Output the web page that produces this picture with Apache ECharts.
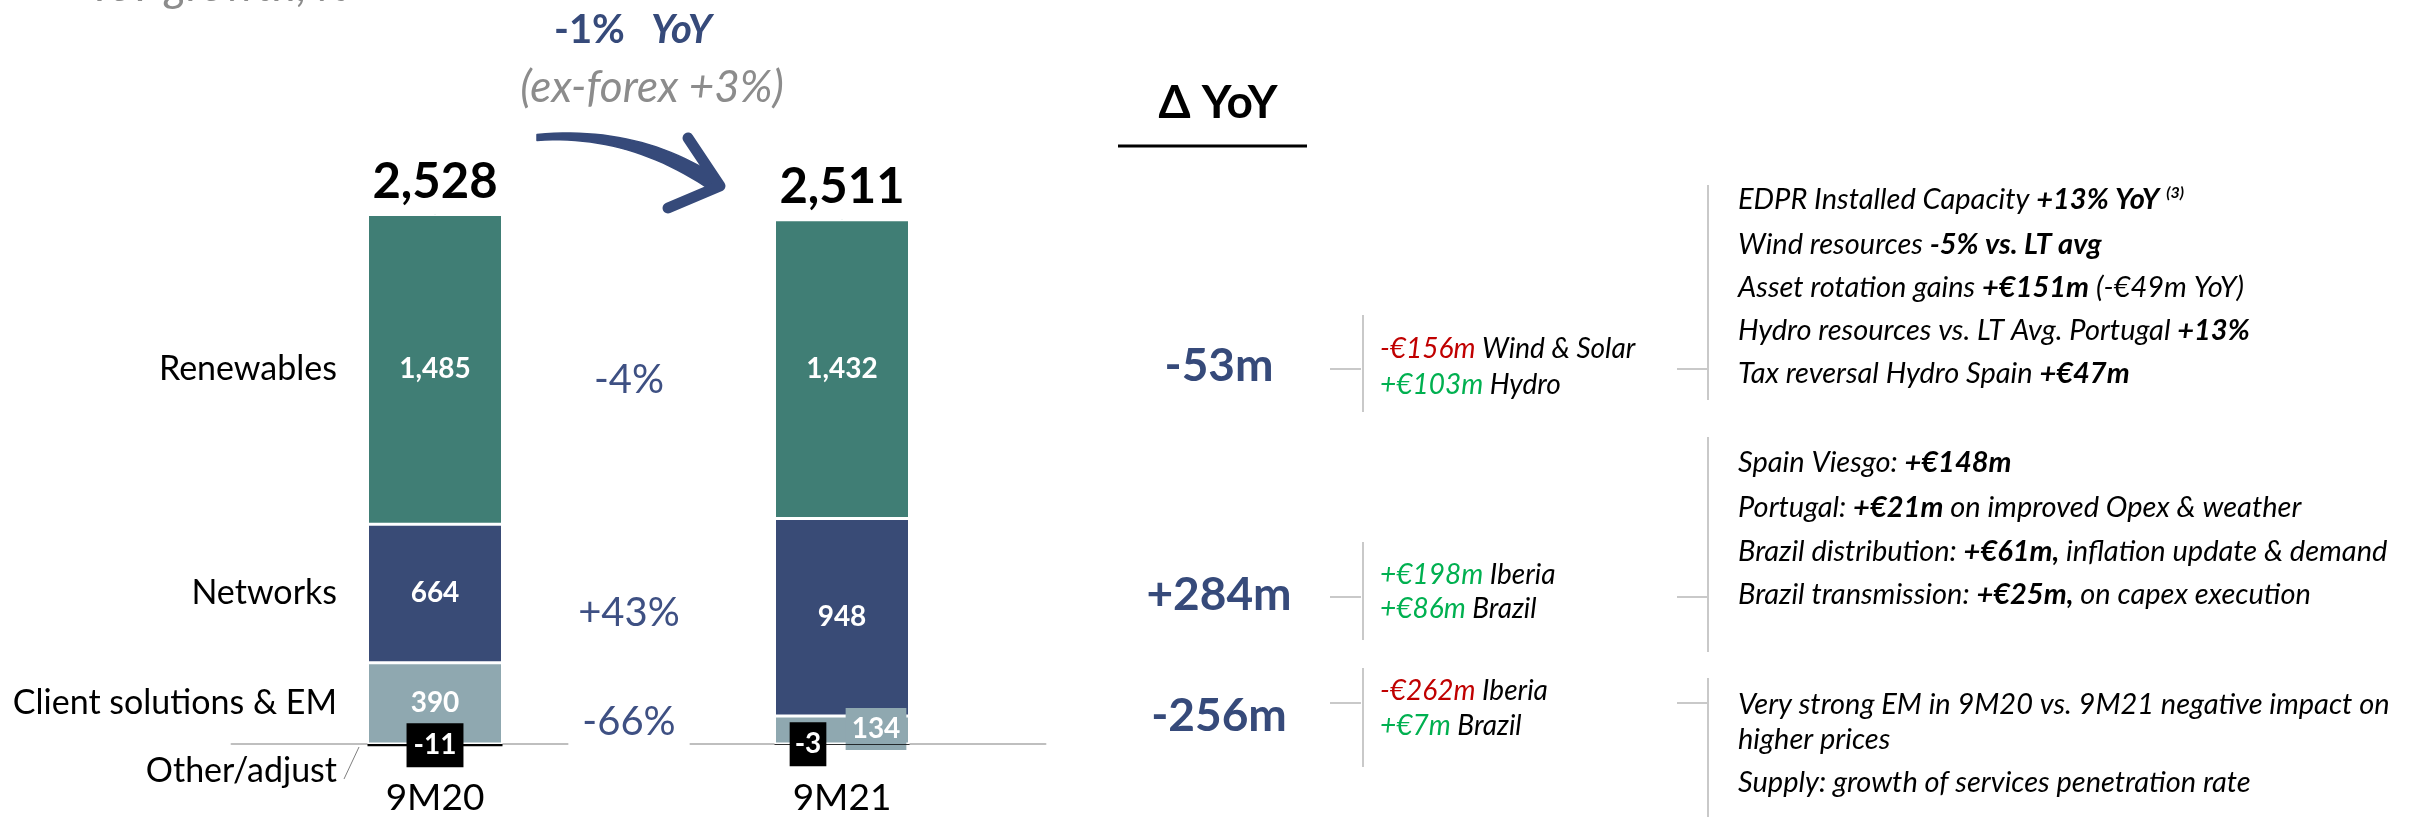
<!DOCTYPE html>
<html><head><meta charset="utf-8">
<script src="https://cdn.jsdelivr.net/npm/echarts@6/dist/echarts.min.js"></script>
<style>html,body{margin:0;padding:0;background:#fff;}#c{width:2412px;height:817px;}</style>
</head><body><div id="c"></div>
<script>
// ---------- data ----------
const categories = ['9M20', '9M21'];
const segmentNames = ['Renewables', 'Networks', 'Client solutions & EM', 'Other/adjust'];
const renewables = [1485, 1432];
const networks = [664, 948];
const clientSolutions = [390, 134];
const otherAdjust = [-11, -3];
const totals = [2528, 2511];
const segmentGrowth = ['-4%', '+43%', '-66%'];
const headlineChange = '-1%';
const headlineUnit = 'YoY';
const headlineSub = '(ex-forex +3%)';
const axisNote = 'YoY growth, %';
const deltaTitle = 'Δ YoY';
const deltaValues = ['-53m', '+284m', '-256m'];
const deltaDrivers = [
  [['-€156m', 'Wind & Solar'], ['+€103m', 'Hydro']],
  [['+€198m', 'Iberia'], ['+€86m', 'Brazil']],
  [['-€262m', 'Iberia'], ['+€7m', 'Brazil']]
];
const deltaDetails = [
  ['EDPR Installed Capacity {b|+13% YoY} {sup|(3)}', 'Wind resources {b|-5% vs. LT avg}', 'Asset rotation gains {b|+€151m} (-€49m YoY)', 'Hydro resources vs. LT Avg. Portugal {b|+13%}', 'Tax reversal Hydro Spain {b|+€47m}'],
  ['Spain Viesgo: {b|+€148m}', 'Portugal: {b|+€21m} on improved Opex & weather', 'Brazil distribution: {b|+€61m,} inflation update & demand', 'Brazil transmission: {b|+€25m,} on capex execution'],
  ['Very strong EM in 9M20 vs. 9M21 negative impact on', 'higher prices', 'Supply: growth of services penetration rate']
];

// ---------- styles / layout ----------
const FONT = 'Lato, "Liberation Sans", sans-serif';
const C = { ren: '#407e75', net: '#394b76', cli: '#8fa8b0', oth: '#000000', blue: '#364a7a', blue2: '#3e5083', grey: '#8c8c8c', line: '#c9c9c9', red: '#c00000', green: '#00b050' };
const fmt = n => String(n).replace(/\B(?=(\d{3})+(?!\d))/g, ',');
const stackTop = categories.map((_, i) => renewables[i] + networks[i] + clientSolutions[i]);

const chart = echarts.init(document.getElementById('c'), null, { renderer: 'canvas' });
const segLabel = { show: true, position: 'inside', color: '#fff', fontWeight: 'bold', fontSize: 28, fontFamily: FONT };

const option = {
  animation: false,
  backgroundColor: '#fff',
  grid: { left: 231.5, right: 1366.5, top: 118.5, bottom: 31.3, containLabel: false, outerBoundsMode: 'none' },
  xAxis: {
    type: 'category', data: categories, boundaryGap: true,
    axisLine: { show: true, onZero: true, lineStyle: { color: '#bfbfbf', width: 2 } },
    axisTick: { show: false },
    axisLabel: { show: false },
    z: 1
  },
  yAxis: { type: 'value', min: -200, max: 3000, show: false, splitLine: { show: false } },
  series: [
    {
      name: segmentNames[2], type: 'bar', stack: 's', barWidth: 135,
      itemStyle: { color: C.cli, borderColor: '#fff', borderWidth: 1.5 },
      label: segLabel,
      data: clientSolutions.map((v, i) => i === 1 ? { value: v, label: { offset: [34, -1], backgroundColor: C.cli, padding: [8, 6, 6, 6] } } : v),
      z: 2
    },
    {
      name: segmentNames[1], type: 'bar', stack: 's', barWidth: 135,
      itemStyle: { color: C.net, borderColor: '#fff', borderWidth: 1.5 },
      label: segLabel, data: networks, z: 2
    },
    {
      name: segmentNames[0], type: 'bar', stack: 's', barWidth: 135,
      itemStyle: { color: C.ren, borderColor: '#fff', borderWidth: 1.5 },
      label: Object.assign({}, segLabel, { formatter: p => fmt(p.value) }), data: renewables, z: 2
    },
    {
      name: segmentNames[3], type: 'bar', stack: 's', barWidth: 135,
      itemStyle: { color: C.oth },
      label: Object.assign({}, segLabel, { backgroundColor: '#000' }),
      data: otherAdjust.map((v, i) => i === 1 ? { value: v, label: { offset: [-34, 0], padding: [9, 5, 7, 5] } } : { value: v, label: { padding: [9, 7, 7, 7] } }),
      z: 3
    },
    {
      name: 'Total', type: 'scatter', data: stackTop, symbolSize: 0.5,
      itemStyle: { color: C.ren }, silent: true, z: 4,
      label: { show: true, position: 'top', distance: 8, opacity: 1, formatter: p => fmt(totals[p.dataIndex]), color: '#000000', textBorderWidth: 0, fontWeight: 'bold', fontSize: 49, fontFamily: FONT }
    }
  ]
};
chart.setOption(option);

// ---------- annotations ----------
function txt(x, y, text, st) {
  return { type: 'text', x, y, silent: true, z: 10,
    style: Object.assign({ text, fill: '#000', fontFamily: FONT, fontSize: 26, align: 'left', verticalAlign: 'middle' }, st || {}) };
}
function ln(x1, y1, x2, y2, w, color) {
  return { type: 'line', silent: true, z: 5, shape: { x1, y1, x2, y2 }, style: { stroke: color || C.line, lineWidth: w || 2 } };
}
function quad(p0, cp, p1, n) {
  const pts = [];
  for (let k = 0; k <= n; k++) {
    const t = k / n, u = 1 - t;
    pts.push([u * u * p0[0] + 2 * u * t * cp[0] + t * t * p1[0], u * u * p0[1] + 2 * u * t * cp[1] + t * t * p1[1]]);
  }
  return pts;
}
const yPix = v => chart.convertToPixel({ gridIndex: 0 }, [0, v])[1];
const xPix = i => chart.convertToPixel({ gridIndex: 0 }, [i, 0])[0];
const catLabelY = [
  yPix(clientSolutions[0] + networks[0] + renewables[0] / 2),
  yPix(clientSolutions[0] + networks[0] / 2),
  yPix(clientSolutions[0] / 2),
  771
];
const g = [];
// category (x axis) labels, placed by the axis scale
categories.forEach((c, i) => g.push(txt(xPix(i), 798, c, { fontSize: 37, align: 'center' })));
// top-left note (cut off at top)
g.push(txt(88, 9, axisNote, { fill: C.grey, fontSize: 45, fontStyle: 'italic', verticalAlign: 'bottom' }));
// headline
g.push(txt(554, 30, '{a|' + headlineChange + '}{b|' + headlineUnit + '}', {
  rich: {
    a: { fontFamily: FONT, fontSize: 40, fontWeight: 'bold', fill: C.blue, color: C.blue },
    b: { fontFamily: FONT, fontSize: 40, fontWeight: 'bold', fontStyle: 'italic', fill: C.blue, color: C.blue, padding: [0, 0, 0, 26] }
  }
}));
g.push(txt(652, 88, headlineSub, { fill: C.grey, fontSize: 44, fontStyle: 'italic', align: 'center' }));
// curved arrow
const shaft = quad([537, 134.5], [640, 125], [719, 178], 24).concat(quad([712, 191], [630, 134], [537, 140.5], 24));
g.push({ type: 'polygon', silent: true, z: 6, shape: { points: shaft }, style: { fill: C.blue, stroke: C.blue, lineWidth: 1.5, lineJoin: 'round' } });
g.push({ type: 'polyline', silent: true, z: 6, shape: { points: [[688, 138], [720, 186], [668, 208]] }, style: { stroke: C.blue, lineWidth: 11, lineCap: 'round', lineJoin: 'round', fill: null } });
// category names
segmentNames.forEach((n, i) => g.push(txt(337, catLabelY[i], n, { fontSize: 34, align: 'right' })));
g.push(ln(344, 779, 359, 747, 1, '#7f7f7f'));
// growth between bars
const growthY = [380, 613, 722];
segmentGrowth.forEach((s, i) => g.push(txt(629, growthY[i], s, Object.assign({ fill: C.blue2, fontSize: 40, align: 'center' }, i === 2 ? { backgroundColor: '#fff', padding: [4, 14] } : {}))));

// right panel
g.push(txt(1218, 103, deltaTitle, { fontSize: 46, fontWeight: 'bold', align: 'center' }));
g.push(ln(1118, 146, 1307, 146, 3, '#000'));
const valY = [366, 595, 716];
const drvY = [[349, 385], [575, 609], [691, 726]];
const connY = [369, 597, 703];
const v1 = [[315, 412], [542, 640], [668, 767]];
const v2 = [[185, 400], [437, 652], [678, 817]];
const detY = [[200, 245, 288, 331, 374], [463, 508, 552, 595], [705, 740, 783]];
const DS = 29, RS = 28;
deltaValues.forEach((v, i) => {
  g.push(txt(1219, valY[i], v, { fontSize: 46, fontWeight: 'bold', fill: C.blue, align: 'center' }));
  g.push(ln(1330, connY[i], 1361, connY[i]));
  g.push(ln(1363, v1[i][0], 1363, v1[i][1]));
  g.push(ln(1677, connY[i], 1707, connY[i]));
  g.push(ln(1708, v2[i][0], 1708, v2[i][1]));
  deltaDrivers[i].forEach((d, j) => {
    const col = d[0].charAt(0) === '-' ? C.red : C.green;
    g.push(txt(1380, drvY[i][j], '{c|' + d[0] + '} {t|' + d[1] + '}', {
      fontSize: RS, fontStyle: 'italic',
      rich: {
        c: { fontFamily: FONT, fontSize: RS, fontStyle: 'italic', fill: col, color: col },
        t: { fontFamily: FONT, fontSize: RS, fontStyle: 'italic', fill: '#000', color: '#000' }
      }
    }));
  });
  deltaDetails[i].forEach((d, j) => {
    g.push(txt(1738, detY[i][j], d, {
      fontStyle: 'italic', fontSize: DS,
      rich: {
        b: { fontFamily: FONT, fontSize: DS, fontStyle: 'italic', fontWeight: 'bold', fill: '#000', color: '#000' },
        sup: { fontFamily: FONT, fontSize: 16, fontStyle: 'italic', fontWeight: 'bold', fill: '#000', color: '#000', padding: [0, 0, 15, 0] }
      }
    }));
  });
});
chart.setOption({ graphic: { elements: g } });
</script></body></html>
